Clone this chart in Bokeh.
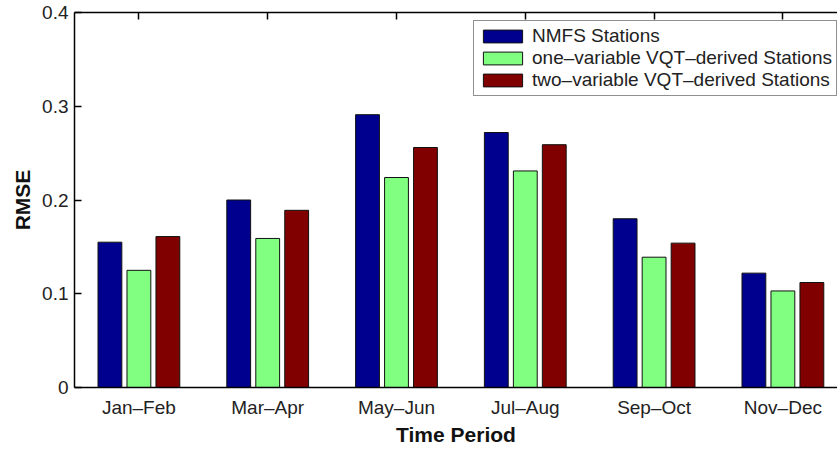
from bokeh.plotting import figure
from bokeh.models import (LinearAxis, FixedTicker, Range1d, Legend, LegendItem,
                          ColumnDataSource)
from bokeh.embed import file_html
from bokeh.resources import INLINE

categories = ["Jan–Feb", "Mar–Apr", "May–Jun", "Jul–Aug", "Sep–Oct", "Nov–Dec"]
nmfs = [0.155, 0.200, 0.291, 0.272, 0.180, 0.122]
one_var = [0.125, 0.159, 0.224, 0.231, 0.139, 0.103]
two_var = [0.161, 0.189, 0.256, 0.259, 0.154, 0.112]
series_names = ["NMFS Stations", "one–variable VQT–derived Stations",
                "two–variable VQT–derived Stations"]
series_colors = ["#00008F", "#80FF80", "#800000"]
y_ticks = [0, 0.1, 0.2, 0.3, 0.4]
y_tick_labels = ["0", "0.1", "0.2", "0.3", "0.4"]

FONT = "Liberation Sans"
xpos = [i + 1 for i in range(len(categories))]

p = figure(width=837, height=449, output_backend="svg", toolbar_location=None,
           x_range=Range1d(0.5, 6.424), y_range=Range1d(0, 0.4),
           min_border_left=74, min_border_right=0, min_border_top=12,
           min_border_bottom=62)
p.outline_line_color = None
p.xgrid.visible = False
p.ygrid.visible = False
p.background_fill_color = "white"
p.border_fill_color = "white"

offsets = [-0.225, 0.0, 0.225]
renderers = []
for vals, off, col in zip([nmfs, one_var, two_var], offsets, series_colors):
    src = ColumnDataSource(dict(x=[x + off for x in xpos], top=vals))
    r = p.vbar(x="x", top="top", bottom=0, width=0.185, source=src,
               fill_color=col, line_color="#111111", line_width=1)
    renderers.append(r)

# bottom axis
xa = p.xaxis[0]
xa.ticker = FixedTicker(ticks=xpos)
xa.major_label_overrides = {x: c for x, c in zip(xpos, categories)}
xa.minor_tick_line_color = None
xa.major_tick_in = 0
xa.major_tick_out = 0
xa.axis_line_width = 1.5
xa.axis_line_color = "black"
xa.major_label_text_font = FONT
xa.major_label_text_font_size = "19px"
xa.major_label_text_color = "#222222"
xa.major_label_standoff = 9
xa.axis_label = "Time Period"
xa.axis_label_text_font = FONT
xa.axis_label_text_font_style = "bold"
xa.axis_label_text_font_size = "21px"
xa.axis_label_text_color = "#111111"
xa.axis_label_standoff = 2

# left axis
ya = p.yaxis[0]
ya.ticker = FixedTicker(ticks=y_ticks)
ya.major_label_overrides = {t: l for t, l in zip(y_ticks, y_tick_labels)}
ya.minor_tick_line_color = None
ya.major_tick_in = 7
ya.major_tick_out = 0
ya.major_tick_line_width = 1.5
ya.axis_line_width = 1.5
ya.axis_line_color = "black"
ya.major_label_text_font = FONT
ya.major_label_text_font_size = "19px"
ya.major_label_text_color = "#222222"
ya.major_label_standoff = 6
ya.axis_label = "RMSE"
ya.axis_label_text_font = FONT
ya.axis_label_text_font_style = "bold"
ya.axis_label_text_font_size = "21px"
ya.axis_label_text_color = "#111111"
ya.axis_label_standoff = 5

# top axis line with inward ticks (no labels)
top = LinearAxis(ticker=FixedTicker(ticks=xpos))
top.major_label_overrides = {x: "" for x in xpos}
top.major_label_standoff = 0
top.major_tick_in = 7
top.major_tick_out = 0
top.major_tick_line_width = 1.5
top.minor_tick_line_color = None
top.axis_line_width = 1.5
top.axis_line_color = "black"
p.add_layout(top, "above")

legend = Legend(items=[LegendItem(label=n, renderers=[r])
                       for n, r in zip(series_names, renderers)],
                location=(399, 291))
legend.label_text_font = FONT
legend.label_text_font_size = "19px"
legend.label_text_color = "#222222"
legend.glyph_width = 49
legend.glyph_height = 16
legend.label_height = 16
legend.label_standoff = 5
legend.spacing = 0
legend.padding = 4
legend.margin = 0
legend.border_line_color = "#222222"
legend.border_line_width = 1
legend.background_fill_alpha = 1
p.add_layout(legend)

open("out.html", "w").write(file_html(p, INLINE))
